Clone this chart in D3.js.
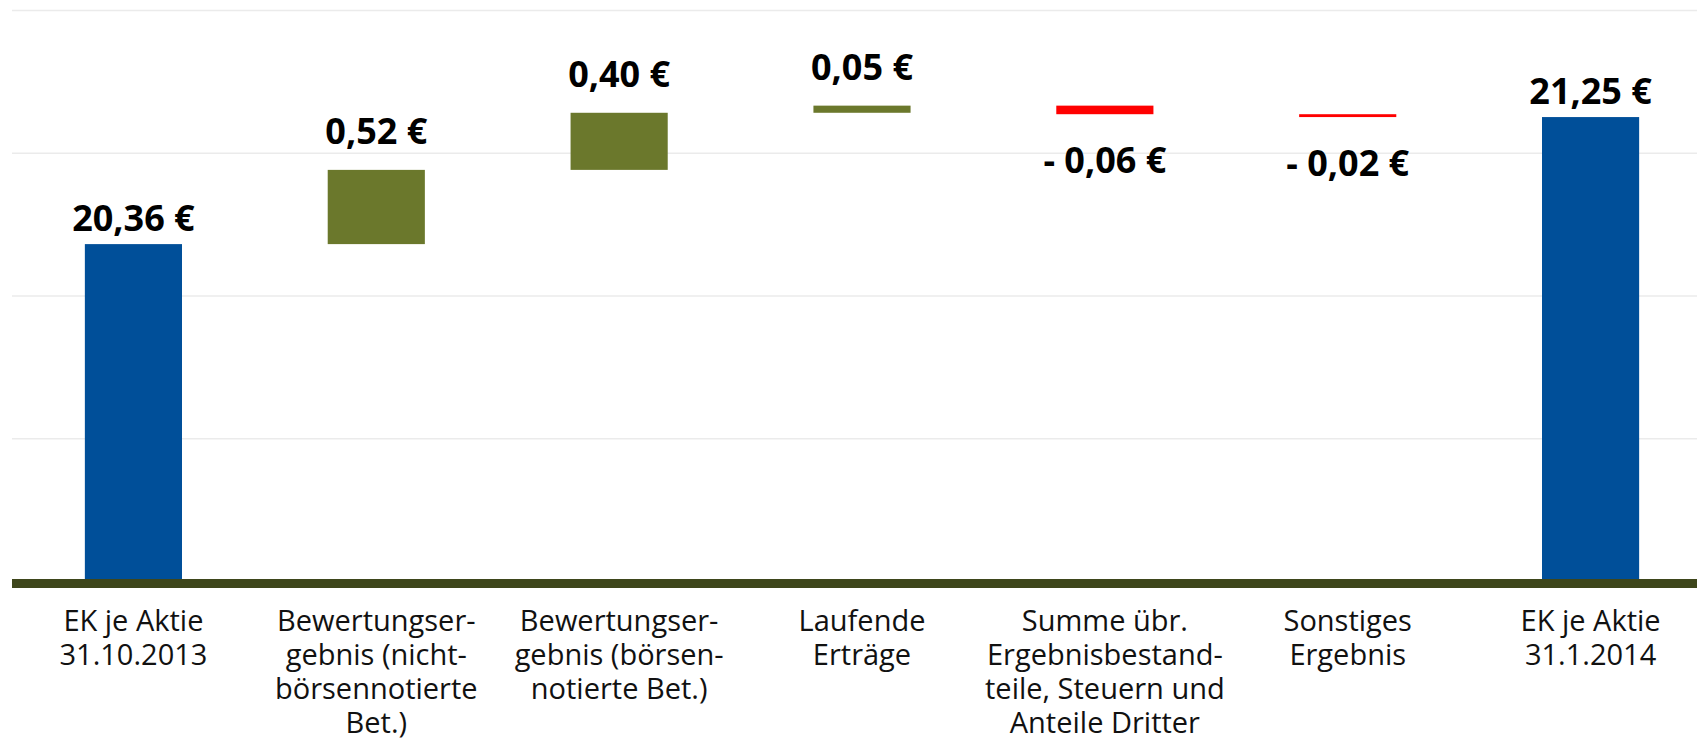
<!DOCTYPE html>
<html>
<head>
<meta charset="utf-8">
<script src="https://cdn.jsdelivr.net/npm/d3@7"></script>
<style>
  html, body { margin: 0; padding: 0; background: #fff; }
  svg { display: block; font-family: "Open Sans", sans-serif; }
</style>
</head>
<body>
<svg id="chart" width="1697" height="749"></svg>
<script>
// categories (line breaks as in the original labels)
const categories = [
  "EK je Aktie\n31.10.2013",
  "Bewertungser-\ngebnis (nicht-\nbörsennotierte\nBet.)",
  "Bewertungser-\ngebnis (börsen-\nnotierte Bet.)",
  "Laufende\nErträge",
  "Summe übr.\nErgebnisbestand-\nteile, Steuern und\nAnteile Dritter",
  "Sonstiges\nErgebnis",
  "EK je Aktie\n31.1.2014"
];
// change per step; totals are flagged
const values = [20.36, 0.52, 0.40, 0.05, -0.06, -0.02, 21.25];
const isTotal = [true, false, false, false, false, false, true];
const gridTicks = [19, 20, 21, 22];
const yDomain = [18, 22];

const colors = { total: "#004f99", up: "#6b782c", down: "#ff0000", axis: "#3e461b", grid: "#ebebeb" };

const svg = d3.select("#chart");
const W = 1697;

const x = d3.scaleBand()
  .domain(categories)
  .range([12, 1712])
  .paddingInner(0.6)
  .paddingOuter(0.3);

const y = d3.scaleLinear().domain(yDomain).range([581, 10]);

// running start/end for each bar
let run = 0;
const bars = values.map((v, i) => {
  let lo, hi;
  if (isTotal[i]) {
    lo = yDomain[0]; hi = v; run = v;
  } else {
    const next = run + v;
    lo = Math.min(run, next); hi = Math.max(run, next);
    run = next;
  }
  return { cat: categories[i], v, lo, hi, total: isTotal[i] };
});

// gridlines
svg.append("g")
  .attr("class", "grid")
  .attr("transform", "translate(12,0)")
  .call(d3.axisLeft(y).tickValues(gridTicks).tickSize(-(W - 12)).tickFormat(""))
  .call(g => g.select(".domain").remove())
  .call(g => g.selectAll("line").attr("stroke", colors.grid).attr("stroke-width", 1.5));

// bars
svg.append("g").selectAll("rect")
  .data(bars)
  .join("rect")
  .attr("x", d => x(d.cat))
  .attr("width", x.bandwidth())
  .attr("y", d => y(d.hi))
  .attr("height", d => y(d.lo) - y(d.hi))
  .attr("fill", d => d.total ? colors.total : (d.v >= 0 ? colors.up : colors.down));

// baseline
svg.append("line")
  .attr("x1", 12).attr("x2", W)
  .attr("y1", y(yDomain[0]) + 2.5).attr("y2", y(yDomain[0]) + 2.5)
  .attr("stroke", colors.axis)
  .attr("stroke-width", 9);

// value labels
const loc = d3.formatLocale({ decimal: ",", thousands: ".", grouping: [3], currency: ["", " €"] });
const fmt = loc.format(".2f");
const label = v => (v < 0 ? "- " + fmt(-v) : fmt(v)) + " €";

svg.append("g").selectAll("text")
  .data(bars)
  .join("text")
  .attr("x", d => x(d.cat) + x.bandwidth() / 2)
  .attr("y", d => {
    if (d.total) return y(d.hi) - 13;
    if (d.v >= 0) return y(d.hi) - 26;
    return y(d.lo) + 59;
  })
  .attr("text-anchor", "middle")
  .attr("font-size", 36)
  .attr("font-weight", "bold")
  .attr("fill", "#000")
  .text(d => label(d.v));

// category labels
const xAxis = svg.append("g")
  .attr("transform", `translate(0,${y(yDomain[0])})`)
  .call(d3.axisBottom(x).tickSize(0).tickFormat(""));
xAxis.select(".domain").remove();
xAxis.attr("font-family", null).attr("font-size", null);
xAxis.selectAll(".tick").each(function(d) {
  const t = d3.select(this).append("text")
    .attr("text-anchor", "middle")
    .attr("font-family", "'Open Sans', sans-serif")
    .attr("font-size", 29)
    .attr("fill", "#111");
  d.split("\n").forEach((line, i) => {
    t.append("tspan").attr("x", 0).attr("y", 50 + i * 34).text(line);
  });
});
</script>
</body>
</html>
